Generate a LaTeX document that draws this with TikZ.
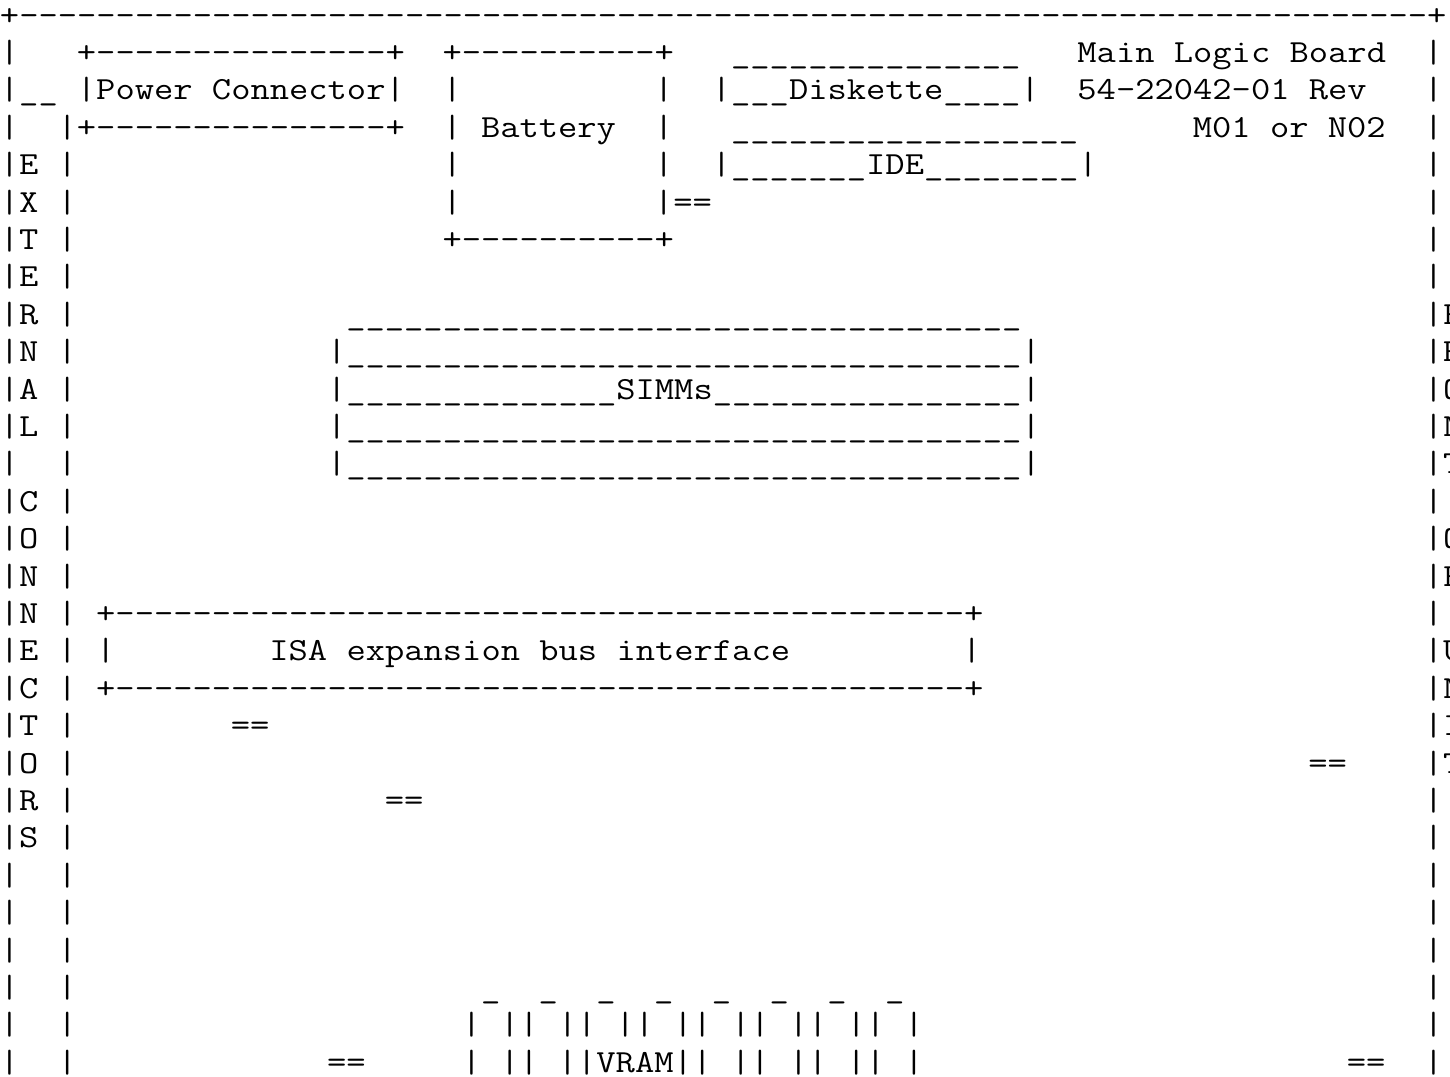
\documentclass[tikz,border=0pt]{standalone}
\ExplSyntaxOn
\NewDocumentCommand\dsh{m}{\prg_replicate:nn{#1}{-\kern0pt}}
\NewDocumentCommand\usc{m}{\prg_replicate:nn{#1}{\_}}
\ExplSyntaxOff
\newcount\nodecnt
\tikzset{asc/.style={anchor=base west, inner sep=0pt, outer sep=0pt, xscale=1.1630,
  font=\ttfamily\fontsize{32.2bp}{37.4bp}\selectfont, text=black}}
\newcommand\putch[3]{\global\advance\nodecnt by 1\relax
  \node[asc] (a\the\nodecnt) at ({#1*19.24},{25+37.4*#2}) {#3};}
\begin{document}
\begin{tikzpicture}[x=1bp,y=-1bp]
\useasboundingbox (0,0) rectangle (1450,1076);
\fill[white] (0,0) rectangle (1450,1076);
\clip (0,0) rectangle (1450,1076);
% outer frame
\putch{0}{0}{+\dsh{73}+}
\foreach \r in {1,...,28}{\putch{0}{\r}{|}\putch{74}{\r}{|}}
\foreach \r in {3,...,28}{\putch{3}{\r}{|}}
\putch{1}{2}{\usc{2}}
\foreach \c [count=\i from 4] in {E,X,T,E,R,N,A,L}{\putch{1}{\i}{\c}}
\foreach \c [count=\i from 13] in {C,O,N,N,E,C,T,O,R,S}{\putch{1}{\i}{\c}}
\foreach \c [count=\i from 8] in {F,R,O,N,T}{\putch{75}{\i}{\c}}
\putch{75}{14}{O}\putch{75}{15}{F}
\foreach \c [count=\i from 17] in {U,N,I,T}{\putch{75}{\i}{\c}}
% power connector
\putch{4}{1}{+\dsh{15}+}
\putch{4}{2}{|Power Connector|}
\putch{4}{3}{+\dsh{15}+}
% battery
\putch{23}{1}{+\dsh{10}+}
\foreach \r in {2,...,5}{\putch{23}{\r}{|}}
\foreach \r in {2,3,4}{\putch{34}{\r}{|}}
\putch{34}{5}{|==}
\putch{25}{3}{Battery}
\putch{23}{6}{+\dsh{10}+}
% diskette / IDE
\putch{38}{1}{\usc{15}}
\putch{37}{2}{|\usc{3}Diskette\usc{4}|}
\putch{38}{3}{\usc{18}}
\putch{37}{4}{|\usc{7}IDE\usc{8}|}
% title
\putch{56}{1}{Main Logic Board}
\putch{56}{2}{54-22042-01 Rev}
\putch{62}{3}{M01 or N02}
% SIMMs
\putch{18}{8}{\usc{35}}
\foreach \r in {9,11,12}{\putch{17}{\r}{|\usc{35}|}}
\putch{17}{10}{|\usc{14}SIMMs\usc{16}|}
% ISA
\putch{5}{16}{+\dsh{44}+}
\putch{5}{17}{|}
\putch{14}{17}{ISA expansion bus interface}
\putch{50}{17}{|}
\putch{5}{18}{+\dsh{44}+}
% connectors ==
\putch{12}{19}{==}
\putch{68}{20}{==}
\putch{20}{21}{==}
\putch{17}{28}{==}
\putch{70}{28}{==}
% VRAM
\foreach \k in {0,...,7}{
  \pgfmathtruncatemacro\cl{24+3*\k}
  \pgfmathtruncatemacro\cm{25+3*\k}
  \pgfmathtruncatemacro\cc{26+3*\k}
  \putch{\cm}{26}{\_}
  \putch{\cl}{27}{|}\putch{\cc}{27}{|}
}
\foreach \c in {24,26,27,29,30,35,36,38,39,41,42,44,45,47}{\putch{\c}{28}{|}}
\putch{31}{28}{VRAM}
\end{tikzpicture}
\end{document}
